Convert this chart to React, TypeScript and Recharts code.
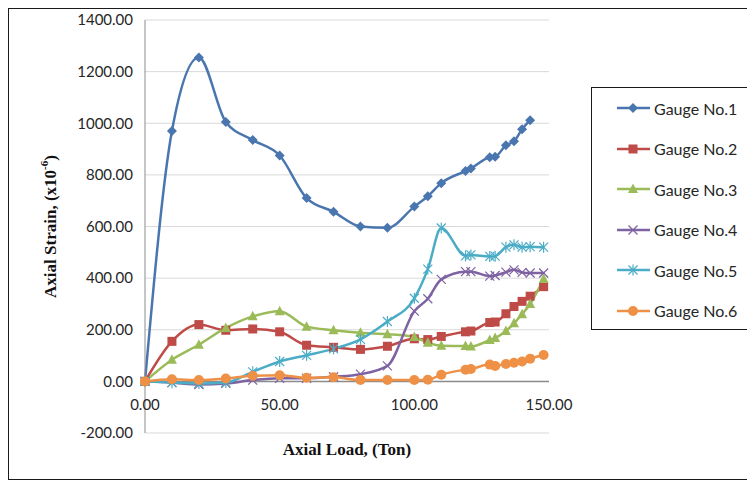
import React from "react";
import { LineChart, Line, XAxis, YAxis, CartesianGrid, ReferenceLine } from "recharts";

// Axial load (ton) at each reading
const loads = [0, 10, 20, 30, 40, 50, 60, 70, 80, 90, 100, 105, 110, 119, 121, 128, 130, 134, 137, 140, 143, 148];

// Axial strain (x10^-6) per gauge; gauge 1 has no reading at the last load step
const gauge1 = [0, 970, 1255, 1005, 935, 875, 710, 657, 600, 595, 677, 717, 768, 815, 825, 868, 870, 915, 930, 977, 1012, null];
const gauge2 = [0, 155, 220, 198, 203, 192, 140, 132, 124, 136, 165, 162, 174, 192, 195, 228, 230, 262, 290, 310, 330, 367];
const gauge3 = [0, 84, 142, 207, 252, 272, 212, 198, 188, 183, 172, 150, 138, 137, 135, 160, 168, 195, 225, 260, 300, 397];
const gauge4 = [0, -5, -12, -8, 5, 12, 12, 18, 28, 60, 272, 320, 395, 425, 425, 408, 410, 423, 432, 422, 420, 420];
const gauge5 = [0, -5, -8, -4, 37, 77, 101, 126, 163, 232, 322, 435, 594, 486, 490, 484, 485, 520, 529, 520, 522, 520];
const gauge6 = [0, 8, 5, 11, 22, 24, 14, 16, 5, 5, 5, 6, 26, 45, 48, 65, 60, 67, 72, 77, 88, 102];

const strainTicks = [-200, 0, 200, 400, 600, 800, 1000, 1200, 1400];
const loadTicks = [0, 50, 100, 150];

const seriesNames = ["Gauge No.1", "Gauge No.2", "Gauge No.3", "Gauge No.4", "Gauge No.5", "Gauge No.6"];

type Shape = "diamond" | "square" | "triangle" | "cross" | "star" | "circle";

const series: { key: string; color: string; shape: Shape; values: (number | null)[] }[] = [
  { key: "g1", color: "#4A76B0", shape: "diamond", values: gauge1 },
  { key: "g2", color: "#BE4B48", shape: "square", values: gauge2 },
  { key: "g3", color: "#9BBB59", shape: "triangle", values: gauge3 },
  { key: "g4", color: "#7E62A1", shape: "cross", values: gauge4 },
  { key: "g5", color: "#4BACC6", shape: "star", values: gauge5 },
  { key: "g6", color: "#EE9147", shape: "circle", values: gauge6 },
];

const data = loads.map((load, i) => {
  const row: Record<string, number | null> = { load };
  series.forEach((s) => {
    row[s.key] = s.values[i];
  });
  return row;
});

const TICK_FONT = "Lato, 'Liberation Sans', sans-serif";
const TITLE_FONT = "'Liberation Serif', 'Times New Roman', serif";

function Marker({ shape, cx, cy, color }: { shape: Shape; cx: number; cy: number; color: string }) {
  switch (shape) {
    case "diamond":
      return <polygon points={`${cx},${cy - 5} ${cx + 5},${cy} ${cx},${cy + 5} ${cx - 5},${cy}`} fill={color} />;
    case "square":
      return <rect x={cx - 4.5} y={cy - 4.5} width={9} height={9} fill={color} />;
    case "triangle":
      return <polygon points={`${cx},${cy - 5.5} ${cx + 5},${cy + 4} ${cx - 5},${cy + 4}`} fill={color} />;
    case "cross":
      return (
        <g stroke={color} strokeWidth={1.2}>
          <line x1={cx - 4.5} y1={cy - 4.5} x2={cx + 4.5} y2={cy + 4.5} />
          <line x1={cx - 4.5} y1={cy + 4.5} x2={cx + 4.5} y2={cy - 4.5} />
        </g>
      );
    case "star":
      return (
        <g stroke={color} strokeWidth={1.2}>
          <line x1={cx - 4.5} y1={cy - 4.5} x2={cx + 4.5} y2={cy + 4.5} />
          <line x1={cx - 4.5} y1={cy + 4.5} x2={cx + 4.5} y2={cy - 4.5} />
          <line x1={cx} y1={cy - 5.5} x2={cx} y2={cy + 5.5} />
        </g>
      );
    default:
      return <circle cx={cx} cy={cy} r={5} fill={color} />;
  }
}

function renderDot(shape: Shape, color: string) {
  return (props: any) => {
    const { cx, cy, index } = props;
    if (cx == null || cy == null || props.value == null) return <g key={`d-${index}`} />;
    return (
      <g key={`d-${index}`}>
        <Marker shape={shape} cx={cx} cy={cy} color={color} />
      </g>
    );
  };
}

// Excel-style load labels sit just under the zero line instead of the plot bottom
function LoadTick(props: any) {
  const { x, y, payload } = props;
  return (
    <text x={x} y={y} dy={-31} textAnchor="middle" fill="#262626" fontFamily={TICK_FONT} fontSize={15}>
      {Number(payload.value).toFixed(2)}
    </text>
  );
}

function LoadTitle(props: any) {
  const { viewBox } = props;
  return (
    <text
      x={viewBox.x + viewBox.width / 2}
      y={viewBox.y + 16}
      textAnchor="middle"
      dominantBaseline="central"
      fontFamily={TITLE_FONT}
      fontWeight="bold"
      fontSize={17}
      fill="#111"
    >
      Axial Load, (Ton)
    </text>
  );
}

function StrainTitle(props: any) {
  const { viewBox } = props;
  const cx = viewBox.x + 41;
  const cy = viewBox.y + viewBox.height / 2;
  return (
    <text
      x={cx}
      y={cy}
      transform={`rotate(-90, ${cx}, ${cy})`}
      textAnchor="middle"
      dominantBaseline="central"
      fontFamily={TITLE_FONT}
      fontWeight="bold"
      fontSize={17}
      fill="#111"
    >
      Axial Strain, (x10
      <tspan dy={-6} fontSize={11}>-6</tspan>
      <tspan dy={6}>)</tspan>
    </text>
  );
}

function GaugeLegend() {
  return (
    <div
      style={{
        position: "absolute",
        left: 582,
        top: 78,
        width: 161,
        height: 243,
        border: "1px solid #1a1a1a",
        boxSizing: "border-box",
        background: "#fff",
      }}
    >
      {series.map((s, i) => (
        <div key={s.key} style={{ display: "flex", alignItems: "center", height: 40.5, paddingLeft: 25 }}>
          <svg width={33} height={14} style={{ marginRight: 4, flexShrink: 0 }}>
            <line x1={0} y1={7} x2={33} y2={7} stroke={s.color} strokeWidth={2.5} />
            <Marker shape={s.shape} cx={16} cy={7} color={s.color} />
          </svg>
          <span style={{ fontFamily: TICK_FONT, fontSize: 16, color: "#262626", whiteSpace: "nowrap" }}>
            {seriesNames[i]}
          </span>
        </div>
      ))}
    </div>
  );
}

export default function App() {
  return (
    <div style={{ position: "relative", width: 745, height: 470, border: "1px solid #1a1a1a", background: "#fff" }}>
      <LineChart width={741} height={470} data={data} margin={{ top: 11, right: 201, bottom: 16, left: 0 }}>
        <CartesianGrid vertical={false} stroke="#d9d9d9" />
        <XAxis
          dataKey="load"
          type="number"
          domain={[0, 150]}
          ticks={loadTicks}
          axisLine={false}
          tickLine={false}
          height={30}
          tick={<LoadTick />}
          label={<LoadTitle />}
        />
        <YAxis
          type="number"
          domain={[-200, 1400]}
          ticks={strainTicks}
          width={136}
          axisLine={{ stroke: "#8c8c8c" }}
          tickLine={false}
          tickMargin={6}
          tick={{ fontFamily: TICK_FONT, fontSize: 15, fill: "#262626" }}
          tickFormatter={(v: number) => v.toFixed(2)}
          label={<StrainTitle />}
        />
        <ReferenceLine y={0} stroke="#8c8c8c" strokeWidth={1.5} />
        {series.map((s, i) => (
          <Line
            key={s.key}
            name={seriesNames[i]}
            dataKey={s.key}
            type="monotone"
            stroke={s.color}
            strokeWidth={2.5}
            dot={renderDot(s.shape, s.color)}
            activeDot={false}
            isAnimationActive={false}
          />
        ))}
      </LineChart>
      <GaugeLegend />
    </div>
  );
}
